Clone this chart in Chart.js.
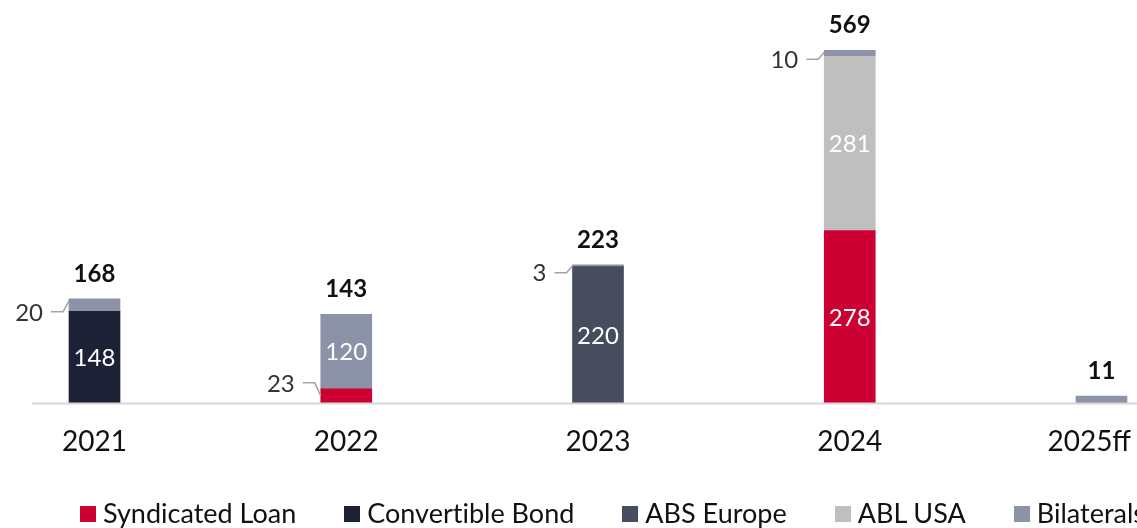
<!DOCTYPE html>
<html><head><meta charset="utf-8">
<script src="https://cdn.jsdelivr.net/npm/chart.js@4.4.1/dist/chart.umd.min.js"></script>
<style>
html,body{margin:0;padding:0;background:#fff;overflow:hidden;width:1137px;height:528px;}
#wrap{position:relative;width:1137px;height:528px;overflow:hidden;}
#legend{position:absolute;left:80px;top:496px;display:flex;white-space:nowrap;font-family:Lato,sans-serif;font-size:27px;line-height:34px;color:#111;font-variant-ligatures:none;}
.item{display:flex;align-items:flex-start;margin-right:48px;}
.sw{width:16px;height:16px;margin-top:10px;margin-right:7px;flex:none;}
</style></head>
<body><div id="wrap"><canvas id="c" width="1137" height="528"></canvas><div id="legend"></div></div>
<script>
// ---- data ----
const years = ['2021', '2022', '2023', '2024', '2025ff'];
const syndicatedLoan = [null, 23, null, 278, null];
const convertibleBond = [148, null, null, null, null];
const absEurope = [null, null, 220, null, null];
const ablUsa = [null, null, null, 281, null];
const bilaterals = [20, 120, 3, 10, 11];
const seriesNames = ['Syndicated Loan', 'Convertible Bond', 'ABS Europe', 'ABL USA', 'Bilaterals'];

// ---- style ----
const colors = ['#cc0033', '#1c2135', '#474d5f', '#bfbfbf', '#8c92a8'];
// small segments labelled outside with a leader line
const callouts = [
  {ds: 4, i: 0, drop: 11},
  {ds: 0, i: 1, drop: -13, anchor: 'mid'},
  {ds: 4, i: 2, drop: 7},
  {ds: 4, i: 3, drop: 7}
];

const labelPlugin = {
  id: 'labels',
  afterDatasetsDraw(chart) {
    const ctx = chart.ctx;
    const area = chart.chartArea;
    const xs = chart.scales.x;
    ctx.save();
    // baseline
    ctx.fillStyle = '#d6d6d6';
    ctx.fillRect(32, area.bottom - 0.5, chart.width - 32, 2);

    // inside labels
    ctx.font = '24px Lato';
    ctx.fillStyle = '#ffffff';
    ctx.textAlign = 'center';
    ctx.textBaseline = 'middle';
    chart.data.datasets.forEach((ds, di) => {
      const meta = chart.getDatasetMeta(di);
      ds.data.forEach((v, i) => {
        if (v == null || v < 100) return;
        const bar = meta.data[i];
        ctx.fillText(String(v), bar.x, (bar.y + bar.base) / 2 + 1);
      });
    });

    // callouts
    callouts.forEach(c => {
      const v = chart.data.datasets[c.ds].data[c.i];
      const bar = chart.getDatasetMeta(c.ds).data[c.i];
      const L = bar.x - bar.width / 2;
      const h = bar.base - bar.y;
      const endY = c.anchor === 'mid' ? (bar.y + bar.base) / 2 : bar.y + Math.min(2, h / 2);
      const ly = endY + c.drop;
      ctx.strokeStyle = '#a3a3a3';
      ctx.lineWidth = 1.5;
      ctx.beginPath();
      ctx.moveTo(L - 18, ly);
      ctx.lineTo(L - 6, ly);
      ctx.lineTo(L, endY);
      ctx.stroke();
      ctx.font = '24px Lato';
      ctx.fillStyle = '#333333';
      ctx.textAlign = 'right';
      ctx.textBaseline = 'middle';
      ctx.fillText(String(v), L - 26, ly + 1);
    });

    // totals
    ctx.font = 'bold 24px Lato';
    ctx.fillStyle = '#111111';
    ctx.textAlign = 'center';
    ctx.textBaseline = 'alphabetic';
    years.forEach((y, i) => {
      let total = 0, top = area.bottom;
      chart.data.datasets.forEach((ds, di) => {
        const v = ds.data[i];
        if (v != null) {
          total += v;
          top = Math.min(top, chart.getDatasetMeta(di).data[i].y);
        }
      });
      ctx.fillText(String(total), xs.getPixelForValue(i), top - 17);
    });

    // category labels
    ctx.font = '28px Lato';
    ctx.fillStyle = '#111111';
    years.forEach((y, i) => {
      const w = ctx.measureText(y).width;
      let cx = xs.getPixelForValue(i);
      cx = Math.min(cx, chart.width - 6 - w / 2);
      ctx.fillText(y, cx, area.bottom + 48);
    });
    ctx.restore();
  }
};

function draw() {
  const seriesData = [syndicatedLoan, convertibleBond, absEurope, ablUsa, bilaterals];
  const datasets = seriesNames.map((n, k) => ({
    label: n, data: seriesData[k], backgroundColor: colors[k], borderWidth: 0
  }));
  new Chart(document.getElementById('c'), {
    type: 'bar',
    data: {labels: years, datasets},
    options: {
      responsive: false,
      animation: false,
      layout: {padding: {left: 94.5, right: 35.5, top: 31, bottom: 125}},
      plugins: {legend: {display: false}, tooltip: {enabled: false}},
      datasets: {bar: {barThickness: 51, clip: false}},
      scales: {
        x: {display: false, stacked: true, offset: false, grid: {display: false}},
        y: {display: false, stacked: true, min: 0, max: 600}
      }
    },
    plugins: [labelPlugin]
  });
  const lg = document.getElementById('legend');
  seriesNames.forEach((n, k) => {
    const it = document.createElement('div');
    it.className = 'item';
    const sw = document.createElement('span');
    sw.className = 'sw';
    sw.style.background = colors[k];
    const tx = document.createElement('span');
    tx.textContent = n;
    it.appendChild(sw); it.appendChild(tx);
    lg.appendChild(it);
  });
}
Promise.all([document.fonts.load('28px Lato'), document.fonts.load('bold 24px Lato')]).then(draw, draw);
</script>
</body></html>
